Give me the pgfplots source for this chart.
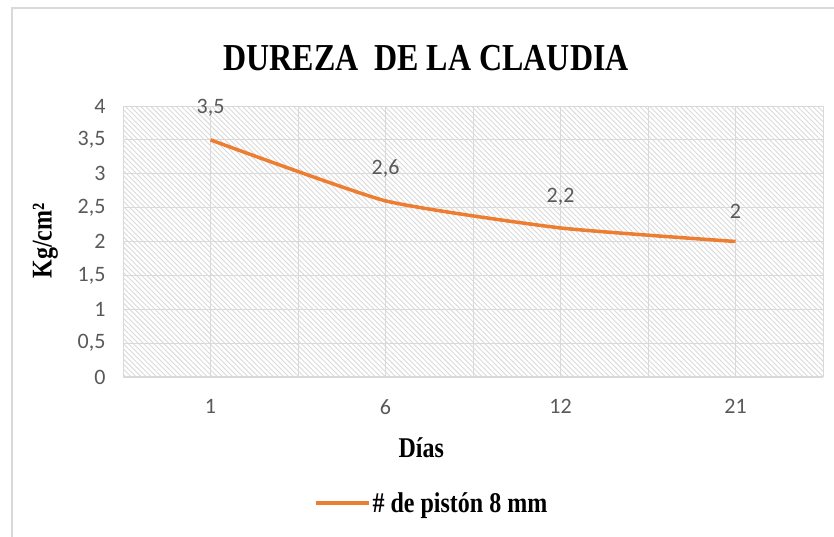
\documentclass[border=0pt]{standalone}
\usepackage{pgfplots}
\pgfplotsset{compat=1.18}
\usepackage{fontspec}
\setmainfont{Liberation Serif}
\newfontfamily\carlito{Carlito}
\usetikzlibrary{patterns.meta}
\definecolor{lineorange}{HTML}{ED7D31}
\definecolor{gridgray}{HTML}{D9D9D9}
\definecolor{ticktext}{HTML}{595959}
\begin{document}
\begin{tikzpicture}[x=1pt,y=1pt]
\useasboundingbox (0,0) rectangle (834,536);
\draw[gridgray,line width=1.5pt] (12,-5) -- (12,528) -- (840,528);
\begin{axis}[
  at={(123pt,159pt)}, anchor=south west,
  scale only axis, width=700pt, height=271pt,
  xmin=0.5, xmax=4.5, ymin=0, ymax=4,
  xtick={1,2,3,4}, xticklabels={1,6,12,21},
  minor xtick={0.5,1.5,2.5,3.5,4.5},
  ytick={0,0.5,1,1.5,2,2.5,3,3.5,4},
  grid=both,
  major grid style={gridgray, line width=1pt},
  minor grid style={gridgray, line width=1pt},
  axis line style={draw=none},
  major tick length=0pt, minor tick length=0pt,
  axis background/.style={pattern={Lines[angle=-45,distance=3.6pt,line width=0.9pt]}, pattern color=black!15},
  /pgf/number format/.cd, use comma, assume math mode=true, 1000 sep={},
  /pgfplots/.cd,
  ticklabel style={font=\carlito\fontsize{22}{26}\selectfont, text=ticktext},
  xticklabel style={yshift=-19pt},
  yticklabel style={xshift=-14pt},
  title={\scalebox{1}[1.19]{DUREZA\ \ DE LA CLAUDIA}},
  title style={font=\bfseries\fontsize{32}{36}\selectfont, at={(axis description cs:0.433,1.153)}, anchor=center},
  xlabel={\scalebox{1}[1.19]{Días}},
  xlabel style={font=\bfseries\fontsize{24}{28}\selectfont, at={(axis description cs:0.426,-0.262)}, anchor=center},
  ylabel={\scalebox{1}[1.19]{Kg/cm²}},
  ylabel style={font=\bfseries\fontsize{24}{28}\selectfont, at={(axis description cs:-0.111,0.502)}, anchor=center, rotate=0},
  legend style={at={(axis description cs:0.441,-0.465)}, anchor=center, draw=none, fill=none,
    font=\bfseries\fontsize{24}{28}\selectfont, inner sep=0pt},
  legend image code/.code={\draw[#1] plot coordinates {(0pt,0pt) (26pt,0pt) (53pt,0pt)};},
  clip=false,
]
\draw[gridgray, line width=1.5pt] (axis cs:0.5,0) -- (axis cs:4.5,0);
\addplot[lineorange, line width=3.5pt, smooth, tension=0.3,
  nodes near coords, every node near coord/.append style={font=\carlito\fontsize{22}{26}\selectfont, text=ticktext, anchor=south, yshift=18pt}]
  coordinates {(1,3.5) (2,2.6) (3,2.2) (4,2)};
\addlegendentry{\scalebox{1}[1.19]{\# de pistón 8 mm}}
\end{axis}
\end{tikzpicture}
\end{document}
